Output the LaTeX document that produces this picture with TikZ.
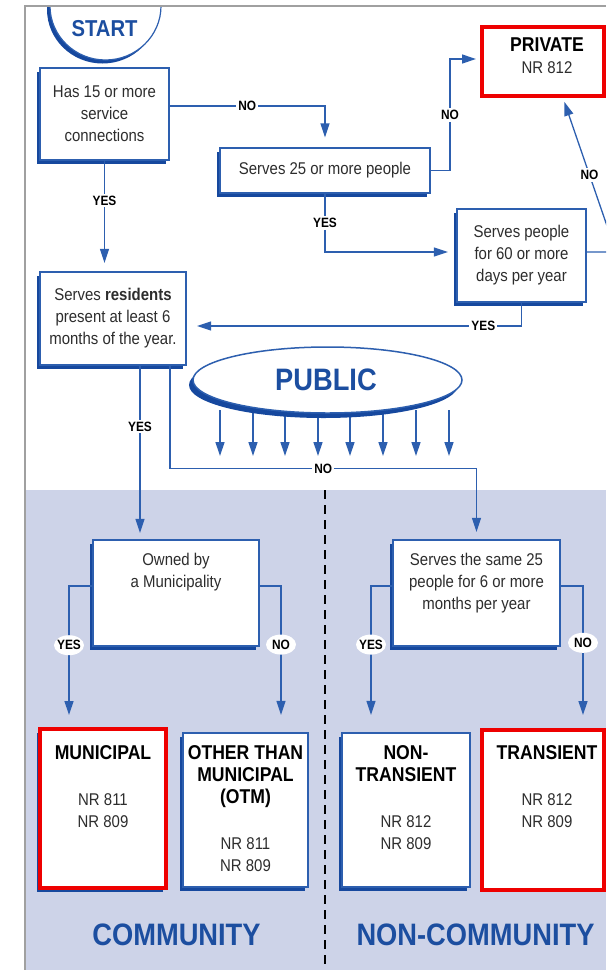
\documentclass[tikz,border=0pt]{standalone}
\usepackage{fontspec}
\setmainfont{Liberation Sans}[FakeStretch=0.88]
\usetikzlibrary{arrows.meta,positioning,shapes.geometric,shadows}

\definecolor{lineblue}{RGB}{45,95,175}
\definecolor{shadeblue}{RGB}{22,72,158}
\definecolor{titleblue}{RGB}{28,78,160}
\definecolor{paneblue}{RGB}{205,211,232}
\definecolor{alertred}{RGB}{238,0,0}
\definecolor{framegray}{RGB}{160,160,160}
\definecolor{textgray}{RGB}{45,45,45}

\newcommand\BodyFont{\fontsize{17}{22}\selectfont}
\newcommand\HeadFont{\fontsize{20}{22}\selectfont\bfseries}
\newcommand\TagFont{\fontsize{13.5}{15}\selectfont\bfseries}
\newcommand\TitleFont{\fontsize{31}{34}\selectfont\bfseries}

\begin{document}
\begin{tikzpicture}[
  x=1pt, y=-1pt,
  % Environment Config
  font=\BodyFont,
  Shade/.style={% Style for the dark blue offset behind a box
    drop shadow={shadow xshift=-3.5pt, shadow yshift=-4pt, fill=shadeblue, opacity=1}
  },
  Box/.style={% Style for the question boxes
    draw=lineblue, line width=1.2pt, fill=white, text=textgray,
    align=center, inner sep=2pt, Shade
  },
  RedBox/.style={% Style for the highlighted boxes
    draw=alertred, line width=4pt, fill=white
  },
  Txt/.style={% Style for the text inside the lower boxes
    align=center, inner sep=0pt, text=textgray
  },
  Flow/.style={% Style for the connectors
    lineblue, line width=1.3pt,
    -{Triangle[length=14pt,width=9pt]},
    shorten >=9pt
  },
  Tag/.style={% Style for YES / NO on white
    fill=white, font=\TagFont, text=black, inner sep=2pt
  },
  TagOval/.style={% Style for YES / NO on the shaded part
    ellipse, fill=white, font=\TagFont, text=black,
    inner xsep=-1.5pt, inner ysep=0pt, minimum height=20pt, minimum width=30pt
  },
  Title/.style={% Style for the big blue words
    font=\TitleFont, text=titleblue
  }
]
\useasboundingbox (0,0) rectangle (606,970);
\clip (0,0) rectangle (606,970);

% Shaded lower part, divider and frame
\fill[paneblue] (26,490) rectangle (606,970);
\draw[black, line width=1.4pt, dash pattern=on 9pt off 6pt] (325,490) -- (325,970);
\draw[framegray, line width=1.2pt] (25,970) -- (25,6) -- (606,6);

%===START===
\begin{scope}
  \clip (0,7) rectangle (606,970);
  \node[ellipse, draw=lineblue, line width=1.2pt, fill=white,
    minimum width=111, minimum height=108,
    drop shadow={shadow xshift=-3pt, shadow yshift=-3.5pt, fill=shadeblue, opacity=1}]
    (start) at (105.5,6) {};
\end{scope}
\node[Title, font=\fontsize{23}{26}\selectfont\bfseries] (start-txt) at (104.5,28.5) {START};

%===PUBLIC===
\foreach \x in {220,253,285,318,350,383,416,449}
  \draw[Flow, shorten >=0pt] (\x,410) -- (\x,456);
\node[ellipse, draw=lineblue, line width=1.5pt, fill=white,
  minimum width=269, minimum height=66,
  drop shadow={shadow xshift=-4pt, shadow yshift=-5pt, fill=shadeblue, opacity=1}]
  (public) at (327.5,380) {};
\node[Title] (public-txt) at (326,380) {PUBLIC};

% Question boxes
\node[Box, minimum width=129, minimum height=92] (conn) at (104.5,114)
  {Has 15 or more\\service\\connections};
\node[Box, minimum width=210, minimum height=45] (pop25) at (325,170.5)
  {Serves 25 or more people};
\node[Box, minimum width=129, minimum height=93] (days60) at (521.5,255.5)
  {Serves people\\for 60 or more\\days per year};
\node[Box, minimum width=146, minimum height=93] (resid) at (113,318.5)
  {Serves \textbf{residents}\\present at least 6\\months of the year.};
\node[Box, minimum width=166, minimum height=106] (owned) at (176,593) {};
\node[Txt, below=14pt of owned.north] (owned-txt) {Owned by\\a Municipality};
\node[Box, minimum width=167, minimum height=106] (same25) at (476.5,593) {};
\node[Txt, below=14pt of same25.north] (same25-txt)
  {Serves the same 25\\people for 6 or more\\months per year};

% Result boxes
\node[RedBox, minimum width=122, minimum height=69] (private) at (543,61.5) {};
\node[Txt, below=13pt of private.north, xshift=4pt] (private-txt)
  {{\HeadFont\color{black} PRIVATE}\\NR 812};
\node[RedBox, Shade, minimum width=126, minimum height=159] (municipal) at (103,808.5) {};
\node[Txt, below=18pt of municipal.north] (municipal-txt)
  {{\HeadFont\color{black} MUNICIPAL}\\[24pt]NR 811\\NR 809};
\node[Box, minimum width=125, minimum height=154] (otm) at (245.5,810) {};
\node[Txt, below=12.5pt of otm.north] (otm-txt)
  {{\HeadFont\color{black} OTHER THAN}\\{\HeadFont\color{black} MUNICIPAL}\\{\HeadFont\color{black} (OTM)}\\[24pt]NR 811\\NR 809};
\node[Box, minimum width=128, minimum height=154] (nontrans) at (406,810) {};
\node[Txt, below=12.5pt of nontrans.north] (nontrans-txt)
  {{\HeadFont\color{black} NON-}\\{\HeadFont\color{black} TRANSIENT}\\[24pt]NR 812\\NR 809};
\node[RedBox, minimum width=122, minimum height=160] (transient) at (543,810) {};
\node[Txt, below=17pt of transient.north, xshift=4pt] (transient-txt)
  {{\HeadFont\color{black} TRANSIENT}\\[24pt]NR 812\\NR 809};

% Draw the connectors
%===NO: to 25 people===
\draw[Flow, shorten >=10pt] ([yshift=8pt]conn.east) -| node[Tag, pos=0.25]{NO} (pop25.north);
%===YES: to residents===
\draw[Flow, shorten >=8.5pt] (conn.south) -- node[Tag, pos=0.36]{YES} (conn.south |- resid.north);
%===NO: to private===
\draw[Flow, shorten >=4pt] (pop25.east)
  -| node[Tag, pos=0.75]{NO} ([xshift=-30pt, yshift=2.5pt]private.west)
  -- ([yshift=2.5pt]private.west);
%===YES: to 60 days===
\draw[Flow, shorten >=8.5pt] (pop25.south) |- node[Tag, pos=0.25]{YES} ([yshift=3.5pt]days60.west);
%===NO: back to private===
\coordinate (offedge) at (616,252);
\draw[Flow, shorten >=4pt] ([yshift=3.5pt]days60.east) -- (offedge)
  -- node[Tag]{NO} ([xshift=20pt]private.south);
%===YES: back to residents===
\draw[Flow, shorten >=10.5pt] (days60.south) |- node[Tag, pos=0.557]{YES} ([yshift=-7.5pt]resid.east);
%===YES: to municipality===
\coordinate (resid-yes) at ([xshift=27pt]resid.south);
\draw[Flow, shorten >=6.5pt] (resid-yes) -- node[Tag, pos=0.35]{YES} (resid-yes |- owned.north);
%===NO: to same 25 people===
\draw[Flow, shorten >=7.5pt] ([xshift=57pt]resid.south) -- ++(0,103)
  -| node[Tag, pos=0.25]{NO} (same25.north);
%===Lower branches===
\draw[Flow, shorten >=12pt] ([yshift=7pt]owned.west) -| node[TagOval, pos=0.71]{YES} ([xshift=-34pt]municipal.north);
\draw[Flow, shorten >=17.5pt] ([yshift=7pt]owned.east) -| node[TagOval, pos=0.7]{NO} ([xshift=35.5pt]otm.north);
\draw[Flow, shorten >=17.5pt] ([yshift=7pt]same25.west) -| node[TagOval, pos=0.7]{YES} ([xshift=-35pt]nontrans.north);
\draw[Flow, shorten >=13pt] ([yshift=7pt]same25.east) -| node[TagOval, pos=0.7]{NO} ([xshift=40pt]transient.north);

% Group names
\node[Title] (community) at (176.5,934.5) {COMMUNITY};
\node[Title] (noncommunity) at (475.5,934.5) {NON-COMMUNITY};
\end{tikzpicture}
\end{document}
